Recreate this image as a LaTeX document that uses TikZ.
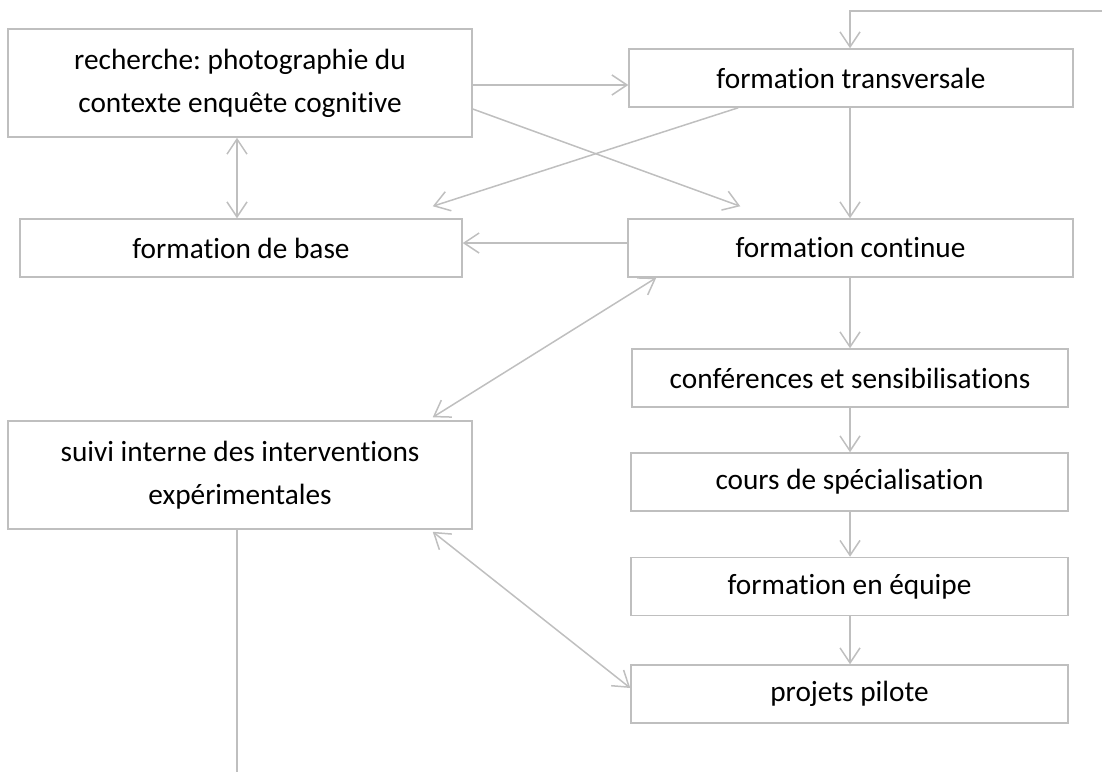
\documentclass[tikz,border=0pt]{standalone}
\usepackage{fontspec}
\setmainfont[Ligatures={NoCommon,NoRequired,NoContextual}]{Carlito}
\frenchspacing
\usetikzlibrary{arrows.meta}
\definecolor{linegray}{HTML}{BFBFBF}
\tikzset{
  >={Straight Barb[length=15pt,width=20pt,line width=1.5pt]},
  box/.style={draw=linegray, line width=1.5pt, inner sep=0pt, align=center,
    font=\fontsize{29.3}{43}\selectfont, text=black},
  link/.style={draw=linegray, line width=1.5pt}
}
\begin{document}
\begin{tikzpicture}[x=1pt, y=-1pt]
\path[use as bounding box] (0,0) rectangle (1102,772);

% boxes
\node[box, minimum width=464pt, minimum height=108pt] (A) at (240,83)
  {recherche: photographie du\\contexte enquête cognitive};
\node[box, minimum width=442pt, minimum height=58pt] (B) at (241,248) {formation de base};
\node[box, minimum width=444pt, minimum height=58pt] (C) at (851,78) {formation transversale};
\node[box, minimum width=445pt, minimum height=58pt] (D) at (850.5,248) {formation continue};
\node[box, minimum width=436pt, minimum height=58pt] (E) at (850,378) {conférences et sensibilisations};
\node[box, minimum width=437pt, minimum height=58pt] (F) at (849.5,482) {cours de spécialisation};
\node[box, minimum width=437pt, minimum height=58pt] (G) at (849.5,586.5) {formation en équipe};
\node[box, minimum width=437pt, minimum height=58pt] (H) at (849.5,694) {projets pilote};
\node[box, minimum width=464pt, minimum height=108pt] (I) at (240,475)
  {suivi interne des interventions\\expérimentales};

% free ends
\coordinate (feed) at (1102,11);
\coordinate (down) at (237,772);

% connectors
\draw[link,->] (feed) -| (E.north |- C.north);
\draw[link,->] ([yshift=-2pt]A.east) -- ([yshift=-2pt]A.east -| C.west);
\draw[link,->] ([yshift=-26pt]A.east) -- ([xshift=113pt,yshift=12pt]D.north west);
\draw[link,->] ([xshift=110pt]C.south west) -- ([xshift=-30pt,yshift=12pt]B.north east);
\draw[link,->] (C.south -| E.north) -- (E.north |- D.north);
\draw[link,->] ([yshift=5pt]D.west) -- ([yshift=5pt]D.west -| B.east);
\draw[link,<->] ([xshift=-3pt]A.south) -- ([xshift=-3pt]A.south |- B.north);
\draw[link,<->] ([xshift=29pt]D.south west) -- ([xshift=-40pt,yshift=3pt]I.north east);
\draw[link,->] (D.south -| E.north) -- (E.north);
\draw[link,->] (E.south) -- (E.south |- F.north);
\draw[link,->] (E.south |- F.south) -- (E.south |- G.north);
\draw[link,->] (E.south |- G.south) -- (E.south |- H.north);
\draw[link,<->] ([xshift=-40pt,yshift=-2pt]I.south east) -- ([yshift=6pt]H.west);
\draw[link] (I.south -| down) -- (down);
\end{tikzpicture}
\end{document}
